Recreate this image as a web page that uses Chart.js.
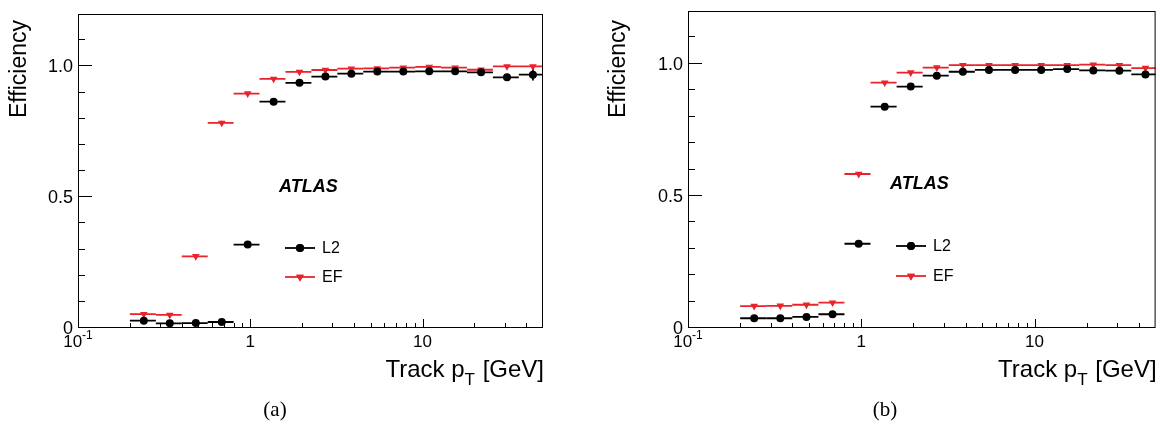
<!DOCTYPE html>
<html>
<head>
<meta charset="utf-8">
<script src="https://cdn.jsdelivr.net/npm/chart.js@4.4.0/dist/chart.umd.min.js"></script>
<style>
  body { margin: 0; background: #fff; width: 1160px; height: 424px; overflow: hidden; position: relative; }
  .panel { position: absolute; top: 0; width: 580px; height: 424px; }
</style>
</head>
<body>
<div class="panel" style="left:0"><canvas id="chartA"></canvas></div>
<div class="panel" style="left:580px"><canvas id="chartB"></canvas></div>
<script>
// bins in track pT [GeV]
const binLow    = [0.2, 0.283, 0.4, 0.566, 0.8, 1.131, 1.6, 2.263, 3.2, 4.525, 6.4, 9.051, 12.8, 18.1, 25.6, 36.2];
const binHigh   = [0.283, 0.4, 0.566, 0.8, 1.131, 1.6, 2.263, 3.2, 4.525, 6.4, 9.051, 12.8, 18.1, 25.6, 36.2, 51.2];
const binCentre = [0.241, 0.341, 0.483, 0.683, 0.966, 1.366, 1.93, 2.73, 3.86, 5.46, 7.73, 10.93, 15.45, 21.85, 30.9, 43.7];

// panel (a)
const l2A    = [0.028, 0.018, 0.019, 0.023, 0.319, 0.865, 0.937, 0.961, 0.972, 0.980, 0.980, 0.981, 0.981, 0.977, 0.958, 0.968];
const l2ErrA = [0.004, 0.003, 0.003, 0.003, 0.008, 0.006, 0.004, 0.003, 0.003, 0.003, 0.003, 0.004, 0.005, 0.007, 0.011, 0.022];
const efA    = [0.053, 0.050, 0.274, 0.784, 0.896, 0.952, 0.979, 0.986, 0.991, 0.992, 0.995, 0.998, 0.995, 0.987, 1.000, 1.000];
const efErrA = [0.004, 0.004, 0.008, 0.008, 0.006, 0.004, 0.003, 0.002, 0.002, 0.002, 0.002, 0.002, 0.003, 0.004, 0.004, 0.004];

// panel (b)
const l2B    = [0.037, 0.037, 0.042, 0.052, 0.319, 0.838, 0.914, 0.955, 0.970, 0.977, 0.977, 0.977, 0.980, 0.975, 0.974, 0.960];
const l2ErrB = [0.003, 0.003, 0.003, 0.004, 0.008, 0.006, 0.004, 0.003, 0.003, 0.003, 0.003, 0.003, 0.004, 0.005, 0.006, 0.008];
const efB    = [0.083, 0.084, 0.088, 0.096, 0.583, 0.929, 0.967, 0.986, 0.995, 0.995, 0.995, 0.995, 0.995, 0.997, 0.995, 0.984];
const efErrB = [0.004, 0.004, 0.004, 0.005, 0.008, 0.005, 0.003, 0.002, 0.002, 0.002, 0.002, 0.002, 0.002, 0.003, 0.003, 0.005];

// axis ticks
const yMajor = [0, 0.5, 1.0];
const yLabels = ['0', '0.5', '1.0'];
const yMinor = [0.1, 0.2, 0.3, 0.4, 0.6, 0.7, 0.8, 0.9, 1.1];
const xMajor = [0.1, 1, 10];
const xLabels = [['10', '-1'], ['1', ''], ['10', '']];
const xMinor = [0.2, 0.3, 0.4, 0.5, 0.6, 0.7, 0.8, 0.9, 2, 3, 4, 5, 6, 7, 8, 9, 20, 30, 40];

const RED = '#e8232b';
const SANS = '"Liberation Sans", Arial, sans-serif';

function points(vals) {
    return vals.map((v, i) => ({ x: binCentre[i], y: v }));
}

const rootStyle = {
    id: 'rootStyle',
    beforeDatasetsDraw(chart, args, o) {
        // horizontal bin-width bars and vertical error bars
        const ctx = chart.ctx, a = chart.chartArea;
        const xs = chart.scales.x, ys = chart.scales.y;
        ctx.save();
        ctx.beginPath();
        ctx.rect(a.left, a.top, a.right - a.left, a.bottom - a.top);
        ctx.clip();
        ctx.lineWidth = 1.8;
        chart.data.datasets.forEach((ds) => {
            ctx.strokeStyle = ds.backgroundColor;
            ds.data.forEach((p, i) => {
                const y = ys.getPixelForValue(p.y);
                ctx.beginPath();
                ctx.moveTo(xs.getPixelForValue(binLow[i]), y);
                ctx.lineTo(xs.getPixelForValue(binHigh[i]), y);
                const x = xs.getPixelForValue(p.x);
                ctx.moveTo(x, ys.getPixelForValue(p.y - ds.errs[i]));
                ctx.lineTo(x, ys.getPixelForValue(p.y + ds.errs[i]));
                ctx.stroke();
            });
        });
        ctx.restore();
    },
    afterDraw(chart, args, o) {
        const ctx = chart.ctx, a = chart.chartArea;
        const xs = chart.scales.x, ys = chart.scales.y;
        ctx.save();
        ctx.strokeStyle = '#000';
        ctx.fillStyle = '#000';
        ctx.lineWidth = 1;
        ctx.strokeRect(a.left + 0.5, a.top + 0.5, a.right - a.left - 1, a.bottom - a.top - 1);

        // ticks, drawn inward like ROOT
        ctx.beginPath();
        yMajor.forEach(v => { const y = Math.round(ys.getPixelForValue(v)) - 0.5; ctx.moveTo(a.left, y); ctx.lineTo(a.left + 14, y); });
        yMinor.forEach(v => { const y = Math.round(ys.getPixelForValue(v)) - 0.5; ctx.moveTo(a.left, y); ctx.lineTo(a.left + 7, y); });
        xMajor.forEach(v => { const x = Math.round(xs.getPixelForValue(v)) + 0.5; ctx.moveTo(x, a.bottom); ctx.lineTo(x, a.bottom - 9); });
        xMinor.forEach(v => { const x = Math.round(xs.getPixelForValue(v)) + 0.5; ctx.moveTo(x, a.bottom); ctx.lineTo(x, a.bottom - 5); });
        ctx.stroke();

        // tick labels
        ctx.font = '18px ' + SANS;
        ctx.textAlign = 'right';
        ctx.textBaseline = 'middle';
        yMajor.forEach((v, i) => ctx.fillText(yLabels[i], a.left - 5, ys.getPixelForValue(v) + 1));
        ctx.textBaseline = 'alphabetic';
        ctx.textAlign = 'left';
        xMajor.forEach((v, i) => {
            const [base, sup] = xLabels[i];
            ctx.font = '17px ' + SANS;
            const wb = ctx.measureText(base).width;
            ctx.font = '12px ' + SANS;
            const ws = sup ? ctx.measureText(sup).width : 0;
            const x0 = xs.getPixelForValue(v) - (wb + ws) / 2;
            ctx.font = '17px ' + SANS;
            ctx.fillText(base, x0, a.bottom + 19);
            if (sup) { ctx.font = '12px ' + SANS; ctx.fillText(sup, x0 + wb, a.bottom + 11); }
        });

        // x title with subscript
        ctx.font = '24px ' + SANS;
        const t1 = 'Track p', t3 = ' [GeV]';
        const w1 = ctx.measureText(t1).width, w3 = ctx.measureText(t3).width;
        ctx.font = '17px ' + SANS;
        const w2 = ctx.measureText('T').width + 1;
        const xEnd = a.right + 1, yb = a.bottom + 49;
        ctx.font = '24px ' + SANS;
        ctx.fillText(t3, xEnd - w3, yb);
        ctx.fillText(t1, xEnd - w3 - w2 - w1, yb);
        ctx.font = '17px ' + SANS;
        ctx.fillText('T', xEnd - w3 - w2, yb + 8);

        // y title
        ctx.save();
        ctx.translate(o.yTitleX, 20);
        ctx.rotate(-Math.PI / 2);
        ctx.font = '23px ' + SANS;
        ctx.textAlign = 'right';
        ctx.fillText('Efficiency', 0, 0);
        ctx.restore();

        // ATLAS label
        ctx.font = 'italic bold 18px ' + SANS;
        ctx.textBaseline = 'middle';
        ctx.fillText('ATLAS', o.atlasX, o.atlasY);

        // legend
        ctx.font = '16px ' + SANS;
        chart.data.datasets.forEach((ds, k) => {
            const y = o.legY[k];
            ctx.strokeStyle = ds.backgroundColor;
            ctx.lineWidth = 1.8;
            ctx.beginPath();
            ctx.moveTo(o.legX, y);
            ctx.lineTo(o.legX + 30, y);
            ctx.stroke();
            ctx.fillStyle = ds.backgroundColor;
            Chart.helpers.drawPoint(ctx, {
                pointStyle: ds.pointStyle, radius: ds.pointRadius, rotation: ds.rotation, borderWidth: 0
            }, o.legX + 15, y);
            ctx.fill();
            ctx.fillStyle = '#000';
            ctx.fillText(ds.label, o.legX + 37, y + 1);
        });

        // caption
        ctx.font = '21px "Liberation Serif", "Times New Roman", serif';
        ctx.textAlign = 'center';
        ctx.textBaseline = 'alphabetic';
        ctx.fillText(o.caption, o.captionX, 416);
        ctx.restore();
    }
};

function makeChart(id, l2, l2Err, ef, efErr, pad, extra) {
    return new Chart(document.getElementById(id), {
        type: 'scatter',
        data: {
            datasets: [{
                label: 'L2',
                data: points(l2),
                errs: l2Err,
                pointStyle: 'circle',
                pointRadius: 4,
                backgroundColor: '#000',
                borderWidth: 0
            }, {
                label: 'EF',
                data: points(ef),
                errs: efErr,
                pointStyle: 'triangle',
                rotation: 180,
                pointRadius: 4.4,
                backgroundColor: RED,
                borderWidth: 0
            }]
        },
        options: {
            responsive: true,
            maintainAspectRatio: false,
            animation: false,
            layout: { padding: pad },
            scales: {
                x: { type: 'logarithmic', min: 0.1, max: 50, display: false },
                y: { type: 'linear', min: 0, max: 1.2, display: false }
            },
            plugins: {
                legend: { display: false },
                tooltip: { enabled: false },
                rootStyle: extra
            }
        },
        plugins: [rootStyle]
    });
}

makeChart('chartA', l2A, l2ErrA, efA, efErrA,
    { left: 78, top: 14, right: 37, bottom: 96 },
    { yTitleX: 26, atlasX: 279, atlasY: 187, legX: 285, legY: [248, 277], caption: '(a)', captionX: 275 });

makeChart('chartB', l2B, l2ErrB, efB, efErrB,
    { left: 108, top: 11, right: 3, bottom: 96 },
    { yTitleX: 45, atlasX: 310, atlasY: 184, legX: 316, legY: [246, 276], caption: '(b)', captionX: 305 });
</script>
</body>
</html>
